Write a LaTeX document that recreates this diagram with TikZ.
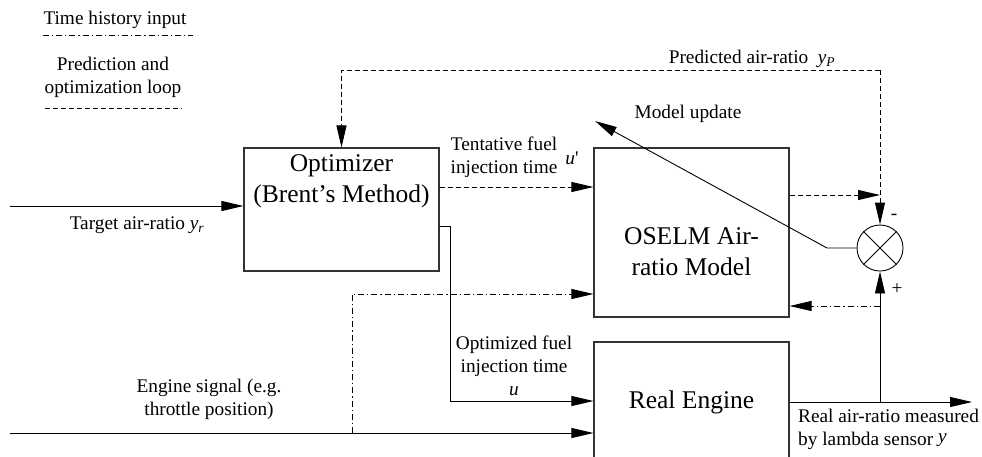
\documentclass[tikz,border=0pt]{standalone}
\usepackage{fontspec}
\setmainfont{Liberation Serif}
\usetikzlibrary{arrows.meta}

\begin{document}
\begin{tikzpicture}[x=1pt,y=-1pt,
  >={Triangle[length=22pt,width=10pt]},
  conn/.style={line width=0.9pt,black},
  loopline/.style={conn,dash pattern=on 5pt off 3pt},
  histline/.style={conn,dash pattern=on 6pt off 3pt on 1.2pt off 3pt},
  block/.style={draw=black!80,line width=1.1pt,rectangle,inner sep=0pt},
  small/.style={font=\fontsize{19.3}{23}\selectfont,align=center,inner sep=0pt},
  big/.style={font=\fontsize{25.5}{31}\selectfont,align=center,inner sep=0pt}]
\useasboundingbox (0,0) rectangle (982,456);
\clip (0,0) rectangle (982,456);

% legend
\node[small] (lhist) at (115,20) {Time history input};
\coordinate (lh1) at (43,35);
\coordinate (lh2) at (193,35);
\draw[histline] (lh1) -- (lh2);
\node[small] (lloop) at (113,77) {Prediction and\\optimization loop};
\coordinate (ll1) at (45,108);
\coordinate (ll2) at (182,108);
\draw[loopline] (ll1) -- (ll2);

% blocks
\node[block,minimum width=195pt,minimum height=123pt] (opt) at (341.5,209.5) {};
\node[big] (optt) at (341.5,181) {Optimizer\\(Brent’s Method)};
\node[block,minimum width=195pt,minimum height=169pt] (osm) at (691.5,232.5) {};
\node[big] (osmt) at (691.5,252) {OSELM Air-\\ratio Model};
\node[block,minimum width=195pt,minimum height=120pt] (eng) at (691.5,402) {};
\node[big] (engt) at (691.5,402) {Real Engine};

% summing junction
\node[draw,circle,line width=0.9pt,minimum size=46pt,inner sep=0pt] (sum) at (880,248) {};
\draw[conn] (sum.north west) -- (sum.south east);
\draw[conn] (sum.north east) -- (sum.south west);
\node[small] (minus) at (894,217) {-};
\node[small] (plus) at (897,289) {+};

% helper points
\coordinate (tin) at (10,206);
\coordinate (ein) at (10,433);
\coordinate (yt) at (0,187);
\coordinate (uo) at (0,226);
\coordinate (ub) at (450,226);
\coordinate (ud) at (450,401);
\coordinate (hb) at (352,433);
\coordinate (ht) at (352,294);
\coordinate (pj) at (880,195);
\coordinate (ptr) at (880,70);
\coordinate (ptl) at (341.5,70);
\coordinate (eout) at (972,402);
\coordinate (fb) at (880,306);
\coordinate (mk) at (827,248);
\coordinate (mtip) at (595,121);

% target input
\draw[conn,->] (tin) -- (tin -| opt.west);
\node[small] (tlab) at (137,225) {Target air-ratio \textit{y}\textsubscript{\textit{r}}};

% tentative fuel injection time
\draw[loopline,->] (opt.east |- yt) -- (osm.west |- yt);
\node[small] (tentl) at (504,157) {Tentative fuel\\injection time};
\node[small] (uprime) at (572,158) {\textit{u}\textquotesingle};

% optimized fuel injection time
\draw[conn,->] (opt.east |- uo) -- (ub) -- (ud) -- (eng.west |- ud);
\node[small] (optl) at (514,366) {Optimized fuel\\injection time\\\textit{u}};

% engine signal
\draw[conn,->] (ein) -- (ein -| eng.west);
\node[small] (esl) at (209,399) {Engine signal (e.g.\\throttle position)};

% time history input to model
\draw[histline,->] (hb) -- (ht) -- (osm.west |- ht);

% model output and prediction loop
\draw[loopline,->] (osm.east |- pj) -- (pj);
\draw[loopline,->] (ptr) -- (sum.north);
\draw[loopline,->] (ptr) -- (ptl) -- (opt.north);
\node[small] (pl) at (752,59) {Predicted air-ratio\ \ \textit{y}\textsubscript{\textit{P}}};

% engine output
\draw[conn,->] (eng.east) -- (eout);
\draw[conn,->] (eng.east -| sum) -- (sum.south);
\node[small,anchor=west,align=left] (rl) at (798,429) {Real air-ratio measured\\by lambda sensor \raisebox{3pt}{\textit{y}}};

% measured air-ratio fed back to model
\draw[histline,->] (fb) -- (osm.east |- fb);

% model update
\draw[conn,->] (sum.west) -- (mk) -- (mtip);
\node[small] (mul) at (688,114) {Model update};
\end{tikzpicture}
\end{document}
